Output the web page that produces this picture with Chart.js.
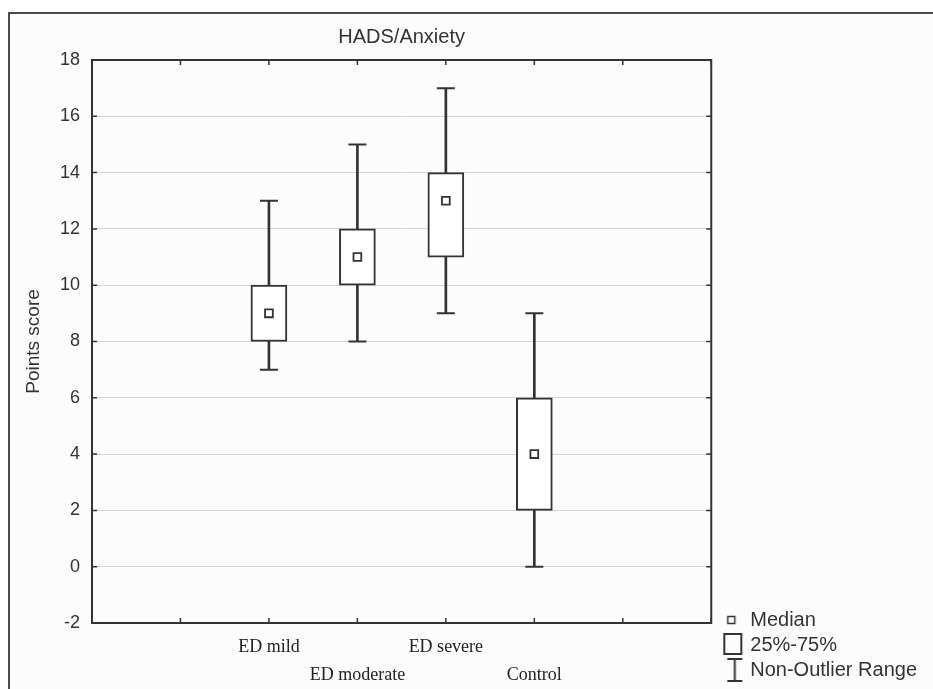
<!DOCTYPE html>
<html>
<head>
<meta charset="utf-8">
<title>HADS/Anxiety</title>
<script src="https://cdn.jsdelivr.net/npm/chart.js@4.4.1/dist/chart.umd.min.js"></script>
<style>
  html, body { margin: 0; padding: 0; background: #fff; }
  #wrap { position: relative; width: 933px; height: 689px; overflow: hidden; }
  #frame { position: absolute; left: 8px; top: 12px; width: 1000px; height: 800px;
           border: 2px solid #4a4a4a; background: #fcfcfc; }
  #chart { position: absolute; left: 0; top: 0; }
</style>
</head>
<body>
<div id="wrap">
  <div id="frame"></div>
  <canvas id="chart" width="933" height="689"></canvas>
</div>
<script>
// box plot values per group
const groups = ['ED mild', 'ED moderate', 'ED severe', 'Control'];
const groupPos = [2, 3, 4, 5];
const lowWhisker = [7, 8, 9, 0];
const q1 = [8, 10, 11, 2];
const median = [9, 11, 13, 4];
const q3 = [10, 12, 14, 6];
const highWhisker = [13, 15, 17, 9];
const legendLabels = ['Median', '25%-75%', 'Non-Outlier Range'];

const SANS = "'Liberation Sans', Arial, sans-serif";
const SERIF = "'Liberation Serif', 'Times New Roman', serif";
const INK = '#333';

const pts = arr => groupPos.map((p, i) => ({ x: p, y: arr[i] }));
const span = (lo, hi) => groupPos.map((p, i) => ({ x: p, y: [lo[i], hi[i]] }));

// small canvases used as legend symbols
function makeIcon(draw) {
  const c = document.createElement('canvas');
  c.width = 30;
  c.height = 24;
  const g = c.getContext('2d');
  g.strokeStyle = INK;
  g.fillStyle = '#fff';
  draw(g);
  return c;
}
const legendIcons = [
  makeIcon(g => { g.lineWidth = 1.5; g.strokeRect(14.5, 8.5, 7, 7); }),
  makeIcon(g => { g.lineWidth = 2; g.strokeRect(11, 1, 17, 20); }),
  makeIcon(g => {
    g.lineWidth = 2;
    g.beginPath();
    g.moveTo(14, 1); g.lineTo(29, 1);
    g.moveTo(21.5, 1); g.lineTo(21.5, 23);
    g.moveTo(14, 23); g.lineTo(29, 23);
    g.stroke();
  })
];

// plot frame with inward tick marks on all four sides
const framePlugin = {
  id: 'frame',
  afterDatasetsDraw(chart) {
    const { ctx, chartArea: a, scales: { x, y } } = chart;
    ctx.save();
    ctx.strokeStyle = INK;
    ctx.lineWidth = 1.5;
    ctx.beginPath();
    x.ticks.forEach(t => {
      const px = x.getPixelForValue(t.value);
      ctx.moveTo(px, a.top); ctx.lineTo(px, a.top + 5);
      ctx.moveTo(px, a.bottom); ctx.lineTo(px, a.bottom - 5);
    });
    y.ticks.forEach(t => {
      const py = y.getPixelForValue(t.value);
      ctx.moveTo(a.left, py); ctx.lineTo(a.left + 5, py);
      ctx.moveTo(a.right, py); ctx.lineTo(a.right - 5, py);
    });
    ctx.stroke();
    ctx.lineWidth = 2;
    ctx.strokeRect(a.left, a.top, a.right - a.left, a.bottom - a.top);
    ctx.restore();
  }
};

new Chart(document.getElementById('chart'), {
  type: 'bar',
  data: {
    datasets: [
      {
        label: 'Non-Outlier Range',
        data: span(lowWhisker, highWhisker),
        backgroundColor: INK,
        barThickness: 2,
        grouped: false,
        order: 3
      },
      {
        label: '25%-75%',
        data: span(q1, q3),
        backgroundColor: '#fff',
        borderColor: INK,
        borderWidth: 2,
        borderSkipped: false,
        barThickness: 36,
        grouped: false,
        order: 2
      },
      {
        type: 'line',
        label: 'low cap',
        data: pts(lowWhisker),
        showLine: false,
        pointStyle: 'line',
        pointRadius: 9,
        pointBorderWidth: 2,
        pointBorderColor: INK,
        order: 1
      },
      {
        type: 'line',
        label: 'high cap',
        data: pts(highWhisker),
        showLine: false,
        pointStyle: 'line',
        pointRadius: 9,
        pointBorderWidth: 2,
        pointBorderColor: INK,
        order: 1
      },
      {
        type: 'line',
        label: 'Median',
        data: pts(median),
        showLine: false,
        pointStyle: 'rect',
        pointRadius: 5.5,
        pointBorderWidth: 1.8,
        pointBackgroundColor: '#fff',
        pointBorderColor: INK,
        order: 0
      }
    ]
  },
  options: {
    responsive: false,
    animation: false,
    events: [],
    layout: { padding: { left: 0, top: 0, right: 6, bottom: 4 } },
    plugins: {
      title: {
        display: true,
        text: 'HADS/Anxiety',
        fullSize: false,
        color: INK,
        font: { family: SANS, size: 20, weight: 'normal' },
        padding: { top: 25, bottom: 11 }
      },
      legend: {
        position: 'right',
        align: 'end',
        onClick: null,
        labels: {
          usePointStyle: true,
          pointStyleWidth: 24,
          padding: 5,
          color: INK,
          font: { family: SANS, size: 20 },
          generateLabels: () => legendLabels.map((text, i) => ({
            text: text,
            pointStyle: legendIcons[i],
            fontColor: INK,
            hidden: false,
            lineWidth: 0,
            fillStyle: 'transparent',
            strokeStyle: 'transparent'
          }))
        }
      },
      tooltip: { enabled: false }
    },
    scales: {
      x: {
        type: 'linear',
        min: 0,
        max: 7,
        offset: false,
        grid: { display: false, drawTicks: false },
        border: { display: false },
        ticks: {
          stepSize: 1,
          autoSkip: false,
          maxRotation: 0,
          padding: 10,
          color: '#222',
          font: { family: SERIF, size: 18, lineHeight: '28px' },
          callback: value => {
            const i = groupPos.indexOf(value);
            if (i < 0) return '';
            return i % 2 ? ['', groups[i]] : groups[i];
          }
        },
        afterFit: scale => { scale.height = 62; }
      },
      y: {
        type: 'linear',
        min: -2,
        max: 18,
        grid: { color: '#d6d6d6', lineWidth: 1, drawTicks: false },
        border: { display: false },
        ticks: {
          stepSize: 2,
          padding: 12,
          color: INK,
          font: { family: SANS, size: 18 }
        },
        title: {
          display: true,
          text: 'Points score',
          color: INK,
          font: { family: SANS, size: 19 },
          padding: { top: 22, bottom: 0 }
        },
        afterFit: scale => { scale.width = 92; }
      }
    }
  },
  plugins: [framePlugin]
});
</script>
</body>
</html>
